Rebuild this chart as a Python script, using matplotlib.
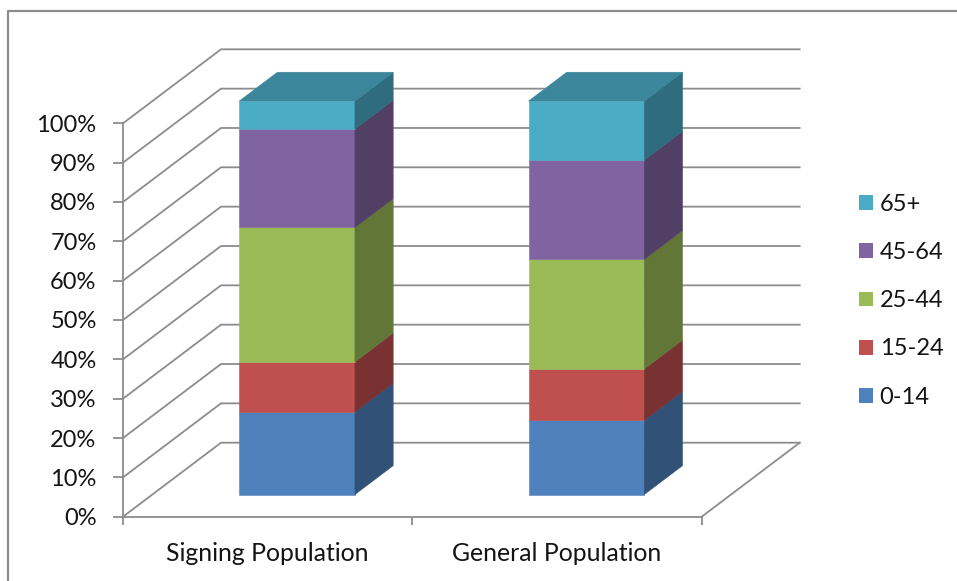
"""
Age distribution: signing population vs general population.
Excel-style 3D 100% stacked column chart, drawn with flat polygons.
"""

import numpy as np
import matplotlib
matplotlib.use("Agg")
import matplotlib.pyplot as plt
from matplotlib.patches import Polygon, Patch
from matplotlib.lines import Line2D

plt.rcParams['font.family'] = ['Lato', 'DejaVu Sans']

# data (percent of each population)
categories = ["Signing Population", "General Population"]
age_groups = ["0-14", "15-24", "25-44", "45-64", "65+"]
signing = [21.0, 12.7, 34.2, 25.0, 7.1]
general = [18.9, 13.0, 27.9, 25.2, 15.0]
series = [signing, general]

front_colors = ["#4F81BD", "#C0504D", "#9BBB59", "#8064A2", "#4BACC6"]

GRID = "#8c8c8c"
TEXT = "#141414"
FS = 17


def shade(hex_color, k):
    r, g, b = matplotlib.colors.to_rgb(hex_color)
    return (r * k, g * k, b * k)


W, H = 957, 581
fig = plt.figure(figsize=(W / 100, H / 100), dpi=100)

# axes: x 0..2 = front floor edge, y 0..1 = 0%..100% on the front plane
x0, x1 = 123.0, 701.7
y0, y1 = 516.7, 123.3
ax = fig.add_axes([x0 / W, (H - y0) / H, (x1 - x0) / W, (y0 - y1) / H])
ax.set_xlim(0, 2)
ax.set_ylim(0, 1)
ax.patch.set_alpha(0)

# depth of the box (floor/walls) in data units
px_x = (x1 - x0) / 2
px_y = (y0 - y1)
DX, DY = 98 / px_x, 74 / px_y
# bars sit between these depth fractions
d_front, d_back = 0.30, 0.69
bar_w = 0.40

# back and side walls gridlines
for v in np.arange(0, 1.01, 0.1):
    ax.plot([0, DX, 2 + DX], [v, v + DY, v + DY], color=GRID, lw=1.3,
            clip_on=False, zorder=1)
# floor right edge
ax.plot([2, 2 + DX], [0, DY], color=GRID, lw=1.3, clip_on=False, zorder=1)

# stacked 3d bars
for i, vals in enumerate(series):
    cx = i + 0.5
    xl, xr = cx - bar_w / 2, cx + bar_w / 2
    fx, fy = d_front * DX, d_front * DY
    bx, by = d_back * DX, d_back * DY
    bottom = 0.0
    for j, val in enumerate(vals):
        top = bottom + val / 100.0
        col = front_colors[j]
        front = [(xl + fx, bottom + fy), (xr + fx, bottom + fy),
                 (xr + fx, top + fy), (xl + fx, top + fy)]
        side = [(xr + fx, bottom + fy), (xr + bx, bottom + by),
                (xr + bx, top + by), (xr + fx, top + fy)]
        ax.add_patch(Polygon(front, closed=True, fc=col, ec=col, lw=0.4,
                             clip_on=False, zorder=3))
        ax.add_patch(Polygon(side, closed=True, fc=shade(col, 0.63),
                             ec=shade(col, 0.63), lw=0.4, clip_on=False,
                             zorder=3))
        if j == len(vals) - 1:
            lid = [(xl + fx, top + fy), (xr + fx, top + fy),
                   (xr + bx, top + by), (xl + bx, top + by)]
            ax.add_patch(Polygon(lid, closed=True, fc=shade(col, 0.78),
                                 ec=shade(col, 0.78), lw=0.4,
                                 clip_on=False, zorder=3))
        bottom = top

# axes lines and ticks
for s in ["top", "right"]:
    ax.spines[s].set_visible(False)
for s in ["left", "bottom"]:
    ax.spines[s].set_color(GRID)
    ax.spines[s].set_linewidth(1.3)

ax.set_yticks(np.arange(0, 1.01, 0.1))
ax.set_yticklabels([f"{int(round(v * 100))}%" for v in np.arange(0, 1.01, 0.1)])
ax.tick_params(axis="y", direction="out", length=7, width=1.3, color=GRID,
               labelsize=FS, labelcolor=TEXT, pad=12)

ax.set_xticks([0.5, 1.5])
ax.set_xticklabels(categories)
ax.set_xticks([0, 1, 2], minor=True)
ax.tick_params(axis="x", which="major", length=0, labelsize=17.8,
               labelcolor=TEXT, pad=18)
ax.tick_params(axis="x", which="minor", direction="out", length=6,
               width=1.3, color=GRID)

# legend, top entry first
handles = [Patch(fc=front_colors[j], ec="none", label=age_groups[j])
           for j in range(len(age_groups) - 1, -1, -1)]
fig.legend(handles=handles, loc="upper left",
           bbox_to_anchor=(859 / W, 1 - 194 / H), frameon=False,
           fontsize=FS, handlelength=0.59, handleheight=0.59,
           handletextpad=0.28, labelspacing=1.15, labelcolor=TEXT,
           borderaxespad=0, borderpad=0)

# chart border (only top and left edges fall inside the picture)
fig.add_artist(Line2D([8.3 / W, 8.3 / W, 1.0], [0.0, 1 - 11 / H, 1 - 11 / H],
                      transform=fig.transFigure, color=GRID, lw=1.6))

fig.savefig("out.png", dpi=100)
